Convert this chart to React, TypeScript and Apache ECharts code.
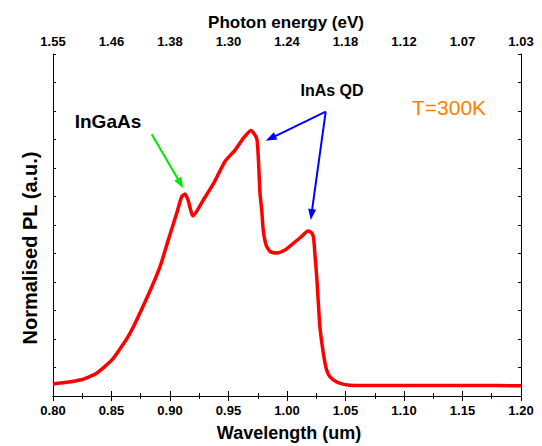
import React, { useEffect, useRef } from "react";
import * as echarts from "echarts";

const wavelength = [
  0.8, 0.8231, 0.8373, 0.8515, 0.8658, 0.8801, 0.8915, 0.8985, 0.9057, 0.91,
  0.9128, 0.9154, 0.9197, 0.9285, 0.937, 0.947, 0.9556, 0.9626, 0.9692, 0.9741,
  0.9756, 0.9769, 0.9784, 0.9797, 0.9821, 0.9855, 0.9915, 0.9983, 1.0051, 1.012,
  1.0179, 1.0205, 1.0226, 1.0239, 1.0254, 1.0269, 1.0282, 1.031, 1.0339, 1.0368,
  1.0425, 1.0496, 1.0581, 1.08, 1.12, 1.16, 1.2,
];
const intensity = [
  0.42, 0.56, 0.8, 1.32, 2.2, 3.43, 4.54, 5.47, 6.41, 6.99,
  7.09, 6.88, 6.32, 6.88, 7.44, 8.23, 8.63, 9.04, 9.32, 9.04,
  8.28, 7.12, 6.53, 5.82, 5.3, 5.07, 5.02, 5.12, 5.35, 5.58,
  5.79, 5.75, 5.58, 4.95, 4.18, 3.19, 2.39, 1.51, 0.91, 0.67,
  0.49, 0.4, 0.37, 0.37, 0.37, 0.37, 0.36,
];
const bottomTicks = [0.8, 0.85, 0.9, 0.95, 1.0, 1.05, 1.1, 1.15, 1.2];
const topLabels = ["1.55", "1.46", "1.38", "1.30", "1.24", "1.18", "1.12", "1.07", "1.03"];

const FONT = '"Liberation Sans", Arial, sans-serif';

function arrow(x1: number, y1: number, x2: number, y2: number, color: string) {
  const dx = x2 - x1;
  const dy = y2 - y1;
  const len = Math.sqrt(dx * dx + dy * dy);
  const ux = dx / len;
  const uy = dy / len;
  const hl = 11;
  const hw = 4;
  const bx = x2 - ux * hl;
  const by = y2 - uy * hl;
  return [
    {
      type: "line",
      shape: { x1, y1, x2: bx + ux * 2, y2: by + uy * 2 },
      style: { stroke: color, lineWidth: 2 },
      silent: true,
    },
    {
      type: "polygon",
      shape: {
        points: [
          [x2, y2],
          [bx - uy * hw, by + ux * hw],
          [bx + uy * hw, by - ux * hw],
        ],
      },
      style: { fill: color },
      silent: true,
    },
  ];
}

export default function App() {
  const ref = useRef<HTMLDivElement>(null);
  useEffect(() => {
    if (!ref.current) return;
    const chart = echarts.init(ref.current, undefined, { renderer: "svg" });
    const axisLine = { show: true, lineStyle: { color: "#000", width: 1 } };
    const tickLabel = { color: "#000", fontSize: 13, fontWeight: "bold" as const, fontFamily: FONT };
    chart.setOption({
      animation: false,
      backgroundColor: "#fff",
      grid: { left: 53, right: 21, top: 54, bottom: 50, containLabel: false },
      xAxis: [
        {
          type: "value",
          position: "bottom",
          min: 0.8,
          max: 1.2,
          interval: 0.05,
          axisLine,
          axisTick: { show: true, inside: false, length: 5, lineStyle: { color: "#000" } },
          minorTick: { show: true, splitNumber: 2, length: 3, lineStyle: { color: "#000" } },
          splitLine: { show: false },
          axisLabel: {
            ...tickLabel,
            margin: 8,
            formatter: (v: number) => {
              const i = bottomTicks.findIndex((t) => Math.abs(t - v) < 1e-6);
              return i >= 0 ? bottomTicks[i].toFixed(2) : "";
            },
          },
        },
        {
          type: "value",
          position: "top",
          min: 0.8,
          max: 1.2,
          interval: 0.05,
          axisLine,
          axisTick: { show: true, inside: false, length: 5, lineStyle: { color: "#000" } },
          minorTick: { show: true, splitNumber: 2, length: 3, lineStyle: { color: "#000" } },
          splitLine: { show: false },
          axisLabel: {
            ...tickLabel,
            margin: 6,
            formatter: (v: number) => {
              const i = Math.round((v - 0.8) / 0.05);
              return topLabels[i] ?? "";
            },
          },
        },
      ],
      yAxis: [
        {
          type: "value",
          position: "left",
          min: 0,
          max: 12,
          interval: 1,
          axisLine,
          axisTick: { show: true, inside: true, length: 3, lineStyle: { color: "#000" } },
          splitLine: { show: false },
          axisLabel: { show: false },
        },
        {
          type: "value",
          position: "right",
          min: 0,
          max: 12,
          interval: 1,
          axisLine,
          axisTick: { show: true, inside: true, length: 3, lineStyle: { color: "#000" } },
          splitLine: { show: false },
          axisLabel: { show: false },
        },
      ],
      series: [
        {
          type: "line",
          xAxisIndex: 0,
          yAxisIndex: 0,
          data: wavelength.map((w, i) => [w, intensity[i]]),
          showSymbol: false,
          smooth: 0.2,
          lineStyle: { color: "#ff0000", width: 3.5 },
          silent: true,
        },
      ],
      graphic: [
        {
          type: "text",
          x: 286,
          y: 22,
          style: {
            text: "Photon energy (eV)",
            fill: "#000",
            fontSize: 17,
            fontWeight: "bold",
            fontFamily: FONT,
            textAlign: "center",
            textVerticalAlign: "middle",
          },
        },
        {
          type: "text",
          x: 289,
          y: 433,
          style: {
            text: "Wavelength (um)",
            fill: "#000",
            fontSize: 18,
            fontWeight: "bold",
            fontFamily: FONT,
            textAlign: "center",
            textVerticalAlign: "middle",
          },
        },
        {
          type: "text",
          x: 30,
          y: 248,
          rotation: Math.PI / 2,
          style: {
            text: "Normalised PL (a.u.)",
            fill: "#000",
            fontSize: 20,
            fontWeight: "bold",
            fontFamily: FONT,
            textAlign: "center",
            textVerticalAlign: "middle",
          },
        },
        {
          type: "text",
          x: 108,
          y: 121,
          style: {
            text: "InGaAs",
            fill: "#000",
            fontSize: 19,
            fontWeight: "bold",
            fontFamily: FONT,
            textAlign: "center",
            textVerticalAlign: "middle",
          },
        },
        {
          type: "text",
          x: 332,
          y: 90,
          style: {
            text: "InAs QD",
            fill: "#000",
            fontSize: 16,
            fontWeight: "bold",
            fontFamily: FONT,
            textAlign: "center",
            textVerticalAlign: "middle",
          },
        },
        {
          type: "text",
          x: 449,
          y: 107,
          style: {
            text: "T=300K",
            fill: "#ff8000",
            fontSize: 21,
            fontFamily: FONT,
            textAlign: "center",
            textVerticalAlign: "middle",
          },
        },
        ...arrow(151.7, 134.3, 183.3, 188.3, "#00e600"),
        ...arrow(325.7, 111.7, 265.7, 140.7, "#0000ff"),
        ...arrow(325.7, 111.7, 310.7, 220, "#0000ff"),
      ],
    });
    return () => chart.dispose();
  }, []);
  return (
    <div
      ref={ref}
      style={{ position: "fixed", left: 0, top: 0, width: 542, height: 446 }}
    />
  );
}
